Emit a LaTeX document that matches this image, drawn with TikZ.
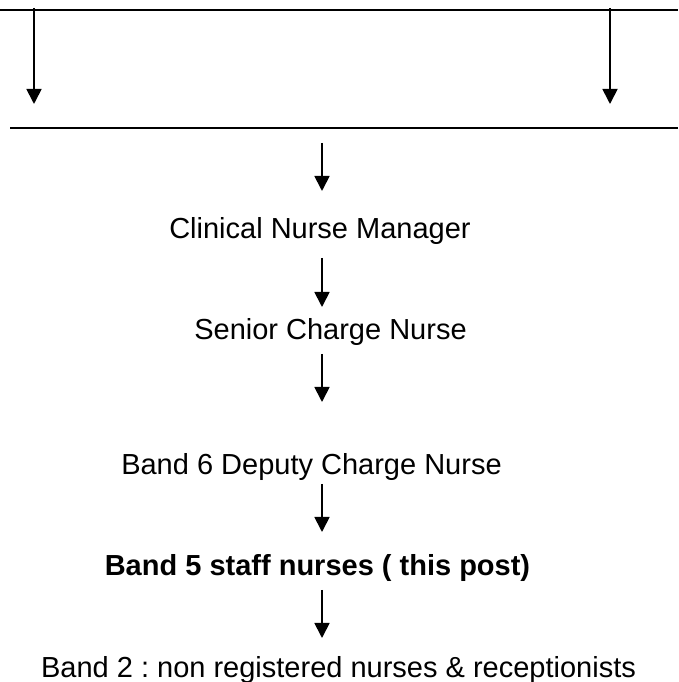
\documentclass[tikz,border=0pt]{standalone}
\usepackage{fontspec}
\setmainfont{Liberation Sans}
\frenchspacing
\usetikzlibrary{positioning}
\usetikzlibrary{calc}
\usetikzlibrary{arrows.meta}

\begin{document}
\begin{tikzpicture}[x=1pt,y=1pt,
livello/.style={anchor=base,inner sep=0pt,font=\fontsize{29}{33}\selectfont},
livelloB/.style={livello,font=\fontsize{29}{33}\selectfont\bfseries},
barra/.style={line width=2pt},
freccia/.style={line width=1.8pt,-{Triangle[width=15pt,length=15pt]}}
]
\useasboundingbox (0,0) rectangle (678,682);
%--
\coordinate (topL) at (0,672); \coordinate (topR) at (678,672);
\coordinate (midL) at (10,554); \coordinate (midR) at (678,554);
\coordinate (spine) at (322,554);
\draw[barra] (topL) -- (topR);
\draw[barra] (midL) -- (midR);
%--
\coordinate (sxA) at (34,674); \coordinate (sxB) at (34,578);
\coordinate (dxA) at (610,674); \coordinate (dxB) at (610,578);
\draw[freccia] (sxA) -- (sxB);
\draw[freccia] (dxA) -- (dxB);
%--
\node[livello] (cnm) at (320,443){Clinical Nurse Manager};
\node[livello] (scn) at (330.5,342){Senior Charge Nurse};
\node[livello] (dcn) at (311.5,207){Band 6 Deputy Charge Nurse};
\node[livelloB] (sn) at (317.5,106){Band 5 staff nurses ( this post)};
\node[livello] (nr) at (338.5,5){Band 2 : non registered nurses \& receptionists};
%--
\draw[freccia] ($(spine)+(0,-15)$) -- ($(cnm.base -| spine)+(0,48)$);
\draw[freccia] ($(cnm.base -| spine)+(0,-19)$) -- ($(scn.base -| spine)+(0,33)$);
\draw[freccia] ($(scn.base -| spine)+(0,-14)$) -- ($(dcn.base -| spine)+(0,73)$);
\draw[freccia] ($(dcn.base -| spine)+(0,-9)$) -- ($(sn.base -| spine)+(0,44)$);
\draw[freccia] ($(sn.base -| spine)+(0,-14)$) -- ($(nr.base -| spine)+(0,39)$);
\end{tikzpicture}
\end{document}
